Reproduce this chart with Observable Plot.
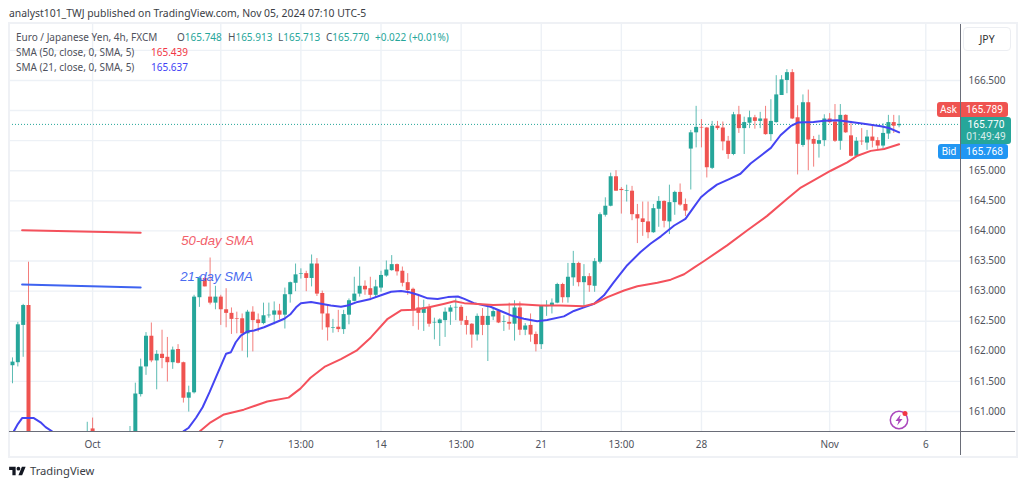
<!DOCTYPE html>
<html><head><meta charset="utf-8">
<script src="https://cdn.jsdelivr.net/npm/d3@7"></script>
<script src="https://cdn.jsdelivr.net/npm/@observablehq/plot@0.6"></script>
<style>
html,body{margin:0;padding:0;background:#fff;}
#page{position:relative;width:1024px;height:487px;overflow:hidden;font-family:"Noto Sans",sans-serif;color:#4f525c;}
#page svg{position:absolute;left:0;top:0;}
.t{position:absolute;white-space:pre;line-height:14px;font-size:10px;}
.frame{position:absolute;left:8px;top:22px;width:1006px;height:432px;border:2px solid #eff1f5;box-sizing:content-box;pointer-events:none;}
.ln{position:absolute;background:#6a6d78;}
.tag{position:absolute;color:#fff;font-family:Roboto,sans-serif;font-size:10.2px;line-height:12px;padding-top:1.5px;text-align:center;box-sizing:border-box;}
</style></head><body><div id="page"></div>
<script>
const bars=[0,1,2,3,14,15,22,...d3.range(23,167)];
const opens=[161.76,161.81,162.43,162.76,160.4,160.71,160.3,160.4,161.28,161.74,162.25,161.84,161.95,161.9,161.81,162.03,161.81,161.22,161.31,162.89,163.21,162.9,162.8,162.9,162.69,162.63,
162.54,162.54,162.29,162.65,162.52,162.46,162.59,162.6,162.67,162.6,162.94,163.13,163.28,163.29,163.21,163.45,162.96,162.62,162.38,162.4,162.36,162.6,162.83,162.95,163.08,163.04,162.93,163.05,163.25,163.34,163.44,163.33,163.14,163.03,162.72,162.63,162.73,162.47,162.46,162.51,162.65,162.72,162.73,
162.51,162.45,162.27,162.58,162.43,162.57,162.67,162.48,162.48,162.45,162.72,162.35,162.43,162.28,162.11,162.74,162.75,162.8,163.11,162.89,163.22,163.46,163.14,163.24,163.08,163.48,164.26,164.41,164.9,164.69,164.66,164.66,164.27,164.2,164.15,163.97,164.36,164.49,164.15,164.47,164.64,164.44,
165.36,165.63,165.72,165.71,165.04,165.74,165.71,165.49,165.27,165.93,165.7,165.79,165.88,165.82,165.86,165.6,165.8,166.25,166.5,166.63,165.88,165.42,166.13,165.52,165.44,165.5,165.86,165.81,165.49,165.92,165.58,165.24,165.49,165.46,165.56,165.5,165.41,165.61,165.8,165.748];
const closes=[161.82,162.44,162.76,160.2,160.5,160.4,160.5,161.29,161.74,162.25,161.84,161.95,161.88,161.81,162.02,161.8,161.22,161.31,162.9,163.21,163.07,162.8,162.9,162.69,162.63,162.53,
162.53,162.29,162.65,162.51,162.46,162.59,162.6,162.67,162.6,162.94,163.14,163.27,163.29,163.21,163.45,162.95,162.62,162.39,162.39,162.36,162.61,162.84,162.95,163.08,163.02,162.93,163.07,163.26,163.35,163.44,163.32,163.13,163.01,162.69,162.63,162.72,162.45,162.48,162.52,162.65,162.72,162.73,162.5,
162.43,162.27,162.58,162.43,162.58,162.66,162.47,162.49,162.45,162.72,162.35,162.42,162.27,162.11,162.75,162.76,162.8,163.11,162.89,163.23,163.46,163.14,163.24,163.09,163.49,164.27,164.41,164.9,164.66,164.67,164.67,164.27,164.2,164.14,163.97,164.37,164.49,164.16,164.47,164.64,164.43,164.33,
165.63,165.72,165.71,165.05,165.74,165.7,165.48,165.27,165.93,165.7,165.8,165.88,165.82,165.86,165.6,165.82,166.26,166.51,166.63,165.86,165.44,166.13,165.51,165.44,165.5,165.86,165.8,165.49,165.92,165.63,165.24,165.49,165.48,165.56,165.49,165.41,165.62,165.8,165.74,165.77];
const highs=[161.89,162.48,162.78,163.48,160.82,160.89,160.75,161.47,161.87,162.31,162.47,162.01,162.35,162.23,162.07,162.11,161.82,161.42,162.93,163.24,163.23,163.55,163.08,162.93,163.04,162.72,
162.65,162.62,162.68,162.74,162.62,162.8,162.8,162.82,162.78,163.05,163.15,163.45,163.37,163.33,163.6,163.54,163.0,162.76,162.53,162.68,162.68,162.87,163.23,163.4,163.17,163.23,163.18,163.33,163.5,163.59,163.45,163.4,163.29,163.05,162.93,162.85,162.78,162.55,162.54,162.72,162.76,162.87,162.76,
162.58,162.46,162.62,162.71,162.76,162.71,162.69,162.59,162.8,162.84,162.82,162.46,162.62,162.32,162.76,162.84,162.87,163.13,163.13,163.46,163.66,163.48,163.44,163.29,163.54,164.3,164.55,164.96,165.0,164.72,164.76,164.74,164.44,164.48,164.48,164.44,164.57,164.5,164.76,164.66,164.78,164.53,
165.67,166.07,165.85,165.72,165.82,165.82,165.81,165.57,165.97,166.07,165.89,165.99,165.92,165.97,166.07,166.18,166.58,166.58,166.68,166.68,166.08,166.26,166.34,165.57,165.59,165.93,165.95,166.1,166.1,165.93,165.82,165.55,165.7,165.67,165.75,165.55,165.78,165.92,165.92,165.913];
const lows=[161.46,161.74,161.9,160.1,160.3,160.3,160.2,160.3,161.24,161.6,161.81,161.36,161.71,161.49,161.7,161.79,161.14,160.99,161.29,162.73,163.07,162.77,162.69,162.43,162.39,162.28,
162.29,162.0,161.89,161.99,162.32,162.44,162.55,162.44,162.52,162.37,162.8,162.99,163.2,162.99,163.07,162.91,162.35,162.17,162.3,162.31,162.28,162.44,162.82,162.9,162.93,162.87,162.88,162.98,163.23,163.33,163.25,163.07,162.93,162.41,162.35,162.33,162.4,162.19,162.08,162.23,162.43,162.51,162.43,
162.27,162.05,162.17,162.26,161.83,162.51,162.46,162.33,162.35,162.17,162.26,162.26,162.15,161.99,162.03,162.58,162.62,162.79,162.8,162.8,163.08,163.07,162.74,162.98,162.98,163.45,164.23,164.4,164.66,164.28,164.48,164.17,163.79,163.91,163.87,163.96,164.06,164.05,163.94,164.26,164.41,164.24,
164.68,165.38,165.38,164.88,165.02,165.67,165.33,165.19,165.25,165.62,165.27,165.7,165.69,165.7,165.59,165.49,165.79,166.25,166.28,165.85,164.93,165.39,165.0,165.06,165.21,165.4,165.78,165.47,165.34,165.62,165.23,165.23,165.42,165.34,165.38,165.35,165.36,165.52,165.62,165.713];

const sma21Bars=[0.25,1,1.8,4,5.25,6.2,7.4,8,31,32,33,34.4,35.6,36.9,38.1,40,40.9,41.8,42.75,44,45.25,47.1,49,50.9,52.1,53.1,54,55.9,57.75,59.6,61.5,62.75,64.6,67.1,69,70.9,72.75,74.3,75.9,77.75,79.6,81.5,83.4,84.6,86.4,89.5,91.4,93.25,95.75,98.25,100.1,103.25,105.1,107,108.9,110.75,112.6,115.1,117.6,119.5,121.4,123.9,126,127.6,128.9,130.4,131.9,134.4,136.3,138.2,140.1,142,143.8,145.7,147,150,152,154.4,156.3,159.4,162.6,164.1,166];
const sma21Values=[160.67,160.79,160.89,160.89,160.82,160.74,160.67,160.6,160.5,160.67,160.73,160.9,161.07,161.32,161.57,161.96,161.985,162.15,162.26,162.33,162.345,162.4,162.47,162.54,162.62,162.73,162.8,162.82,162.79,162.76,162.74,162.76,162.82,162.87,162.93,162.99,163.0,162.98,162.94,162.88,162.87,162.9,162.91,162.87,162.8,162.74,162.67,162.6,162.54,162.5,162.52,162.58,162.67,162.73,162.79,162.93,163.15,163.43,163.65,163.79,163.91,164.09,164.2,164.4,164.56,164.67,164.77,164.87,164.95,165.12,165.25,165.38,165.59,165.74,165.8,165.81,165.83,165.84,165.82,165.78,165.74,165.71,165.637];
const sma50Bars=[34.5,35.2,37.1,39.6,43.3,47.7,51.7,53.9,55.8,58.4,61.5,64.4,67.1,70.25,72.75,75.25,78,80.9,82.75,84.6,86.4,90,95,98.9,102.6,107,108.9,111.4,114.5,117,120.75,123.25,125.75,127.6,129.5,133.8,137.6,141.3,145,147.6,150,153.2,156.3,158.2,160.7,163.2,166];
const sma50Values=[160.62,160.68,160.82,160.95,161.03,161.165,161.23,161.38,161.56,161.74,161.87,162.01,162.23,162.54,162.68,162.69,162.73,162.79,162.83,162.8,162.79,162.77,162.78,162.76,162.76,162.75,162.79,162.9,163.01,163.08,163.14,163.19,163.28,163.39,163.5,163.76,164.01,164.25,164.53,164.72,164.84,165.0,165.14,165.25,165.33,165.36,165.439];

const noteBars=[1.8,24];
const note50Values=[164.01,163.97];
const note21Values=[163.11,163.06];
const notes=[{text:"50-day SMA",bar:31.6,price:163.84,color:"#f2606a"},{text:"21-day SMA",bar:31.4,price:163.23,color:"#4a6cf0"}];

const gridPrices=[161,161.5,162,162.5,163,163.5,164,164.5,165,165.5,166,166.5,167];
const priceLabels=[161,161.5,162,162.5,163,163.5,164,164.5,165,166.5];
const timeTicks=[15,39,54,69,84,99,114,129,153,171];
const timeLabels=["Oct","7","13:00","14","13:00","21","13:00","28","Nov","6"];
const lastPrice=165.77;

const GREEN="#26a69a",RED="#ef5350",BLUE="#4444f2",SRED="#f4515c",GRID="#edf1f6";
const candles=bars.map((b,k)=>({bar:b,o:opens[k],h:highs[k],l:lows[k],c:closes[k],col:closes[k]>=opens[k]?GREEN:RED,
  top:Math.max(opens[k],closes[k]),bot:Math.min(opens[k],closes[k])}));
const s21=sma21Bars.map((b,k)=>({b,v:sma21Values[k]}));
const s50=sma50Bars.map((b,k)=>({b,v:sma50Values[k]}));
const n50=noteBars.map((b,k)=>({b,v:note50Values[k]}));
const n21=noteBars.map((b,k)=>({b,v:note21Values[k]}));

const chart=Plot.plot({
  width:1024,height:487,marginLeft:9,marginRight:64,marginTop:24,marginBottom:56,
  style:{fontFamily:'"Noto Sans",sans-serif',background:"transparent",overflow:"visible"},
  x:{type:"linear",domain:[-0.56,177.5]},
  y:{type:"linear",domain:[160.667,167.43]},
  marks:[
    Plot.ruleY(gridPrices,{stroke:GRID,strokeWidth:1.4}),
    Plot.ruleX(timeTicks,{stroke:GRID,strokeWidth:1.4}),
    Plot.ruleY([lastPrice],{stroke:GREEN,strokeDasharray:"1 2",strokeWidth:1}),
    Plot.ruleX(candles,{x:"bar",y1:"l",y2:"h",stroke:"col",strokeWidth:1,strokeOpacity:0.75,clip:true}),
    Plot.ruleX(candles,{x:"bar",y1:"bot",y2:"top",stroke:"col",strokeWidth:4,clip:true}),
    Plot.line(s21,{x:"b",y:"v",stroke:BLUE,strokeWidth:2,clip:true}),
    Plot.line(s50,{x:"b",y:"v",stroke:SRED,strokeWidth:2,clip:true}),
    Plot.line(n50,{x:"b",y:"v",stroke:SRED,strokeWidth:2}),
    Plot.line(n21,{x:"b",y:"v",stroke:"#3f63f0",strokeWidth:2}),
    Plot.text(notes,{x:"bar",y:"price",text:"text",fill:"color",textAnchor:"start",fontSize:13.2,fontStyle:"italic",fontFamily:"'Liberation Sans',sans-serif"}),
    Plot.axisY({anchor:"right",ticks:priceLabels,tickSize:0,tickPadding:8,label:null,tickFormat:d3.format(".3f"),fontSize:10,fill:"#4f525c"}),
    Plot.axisX({ticks:timeTicks,tickSize:0,tickPadding:9,label:null,tickFormat:d=>timeLabels[timeTicks.indexOf(d)],fontSize:10,fill:"#4f525c"})
  ]
});
const page=document.getElementById("page");
page.appendChild(chart);
const html=`
<div class="frame"></div>
<div class="ln" style="left:960px;top:24px;width:1px;height:431px"></div>
<div class="ln" style="left:9px;top:431px;width:1006px;height:1px"></div>
<div class="t" style="left:9px;top:6px;font-size:10.4px;color:#3a3d45">analyst101_TWJ published on TradingView.com, Nov 05, 2024 07:10 UTC-5</div>
<div class="t" style="left:16px;top:30px">Euro / Japanese Yen, 4h, FXCM</div>
<div class="t" style="left:177px;top:30px">O<span style="color:#26a69a">165.748</span></div>
<div class="t" style="left:228px;top:30px">H<span style="color:#26a69a">165.913</span></div>
<div class="t" style="left:278px;top:30px">L<span style="color:#26a69a">165.713</span></div>
<div class="t" style="left:326px;top:30px">C<span style="color:#26a69a">165.770</span></div>
<div class="t" style="left:375px;top:30px;color:#26a69a">+0.022 (+0.01%)</div>
<div class="t" style="left:16px;top:45px">SMA (50, close, 0, SMA, 5)</div>
<div class="t" style="left:151px;top:45px;color:#f23645">165.439</div>
<div class="t" style="left:16px;top:60px">SMA (21, close, 0, SMA, 5)</div>
<div class="t" style="left:151px;top:60px;color:#3f3ff5">165.637</div>
<div style="position:absolute;left:963px;top:27px;width:46px;height:22px;border:1px solid #eceef2;border-radius:4px;background:#fff;font-size:10.5px;line-height:22px;text-align:center;color:#333">JPY</div>
<div class="tag" style="left:937px;top:102px;width:23px;height:15px;background:#ef5350;border-radius:3px 0 0 3px">Ask</div>
<div class="tag" style="left:961px;top:102px;width:47px;height:15px;background:#ef5350;border-radius:0 3px 3px 0">165.789</div>
<div class="tag" style="left:961px;top:117px;width:50px;height:27px;background:#26a69a;border-radius:0 3px 3px 0;line-height:12px">165.770<br><span style="opacity:.8">01:49:49</span></div>
<div class="tag" style="left:938px;top:144px;width:22px;height:15px;background:#2196f3;border-radius:3px 0 0 3px">Bid</div>
<div class="tag" style="left:961px;top:144px;width:47px;height:15px;background:#2196f3;border-radius:0 3px 3px 0">165.768</div>
<svg style="left:888px;top:408px" width="24" height="24" viewBox="0 0 24 24">
<circle cx="11" cy="12" r="8.7" fill="#fff" stroke="#ab47bc" stroke-width="1.5"/>
<path d="M12.6 6.5 L7.5 13 H10.5 L9.2 17.5 L14.5 11 H11.5 Z" fill="#ab47bc"/>
<circle cx="17" cy="5.5" r="2.5" fill="#f23645"/></svg>
<svg style="left:9px;top:465px" width="17" height="13" viewBox="0 0 36 28"><path d="M14 22H7V11H0V4h14v18zM28 22h-8l7.5-18h8L28 22z" fill="#131722"/><circle cx="20" cy="8" r="4" fill="#131722"/></svg>
<div class="t" style="left:30px;top:463px;font-size:11.2px;line-height:16px;color:#3a3d45">TradingView</div>`;
page.insertAdjacentHTML("beforeend",html);
</script></body></html>
